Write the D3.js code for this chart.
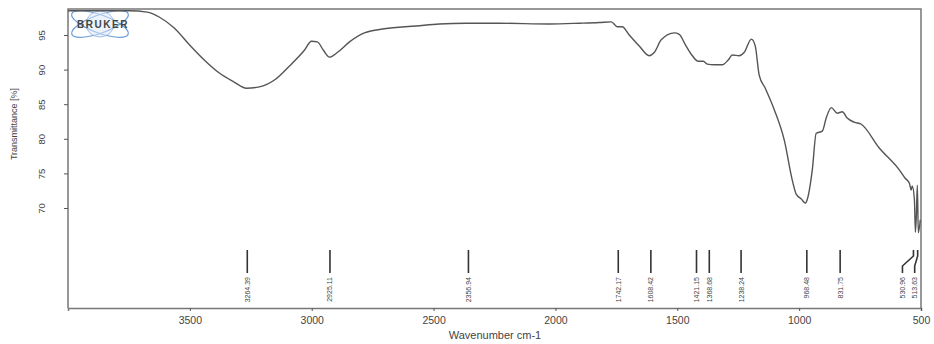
<!DOCTYPE html>
<html>
<head>
<meta charset="utf-8">
<script src="https://cdn.jsdelivr.net/npm/d3@7"></script>
<style>
  body { margin: 0; background: #fff; }
  text { font-family: "Liberation Sans", Arial, sans-serif; fill: #444; }
</style>
</head>
<body>
<svg id="root"></svg>
<script>
// spectrum
const wavenumbers = [4000, 3872, 3749, 3675, 3626, 3564, 3502, 3441, 3379, 3318, 3268, 3215, 3153, 3092, 3030,
  3001, 2977, 2952, 2927, 2894, 2845, 2784, 2702, 2571, 2477, 2366, 2230, 2025, 1902, 1820, 1771, 1746, 1726,
  1697, 1656, 1615, 1594, 1566, 1512, 1492, 1467, 1438, 1414, 1393, 1377, 1348, 1315, 1291, 1274, 1246, 1225,
  1196, 1180, 1164, 1139, 1102, 1061, 1028, 1012, 991, 975, 967, 946, 930, 905, 889, 868, 844, 823, 803, 774,
  745, 672, 589, 565, 548, 540, 536, 527, 523, 519, 515, 511, 503];
const transmittance = [98.5, 98.5, 98.5, 98.3, 97.6, 96.0, 93.6, 91.4, 89.5, 88.2, 87.3, 87.5, 88.5, 90.5, 92.8,
  94.1, 94.0, 92.8, 91.8, 92.5, 94.0, 95.3, 95.9, 96.3, 96.6, 96.7, 96.7, 96.6, 96.7, 96.8, 96.9, 96.2, 96.2,
  95.0, 93.4, 92.0, 92.5, 94.3, 95.3, 95.1, 93.6, 92.0, 91.2, 91.2, 90.8, 90.7, 90.7, 91.4, 92.1, 92.0, 92.5,
  94.4, 93.4, 89.2, 87.3, 84.2, 79.8, 74.0, 72.0, 71.3, 70.7, 71.2, 75.5, 80.8, 81.1, 83.0, 84.5, 83.7, 83.9,
  83.0, 82.4, 82.1, 78.7, 75.5, 74.3, 73.6, 72.6, 73.2, 71.2, 66.5, 69.0, 73.3, 66.4, 68.3];

// peak picking labels
const peakPositions = [3264.39, 2925.11, 2356.94, 1742.17, 1608.42, 1421.15, 1368.68, 1238.24, 968.48, 831.75, 530.96, 513.63];
const peakLabels = ["3264.39", "2925.11", "2356.94", "1742.17", "1608.42", "1421.15", "1368.68", "1238.24", "968.48", "831.75", "530.96", "513.63"];
const peakLabelShift = [0, 0, 0, 0, 0, 0, 0, 0, 0, 0, -11, -3];

const xTicks = [3500, 3000, 2500, 2000, 1500, 1000, 500];
const yTicks = [95, 90, 85, 80, 75, 70];

const W = 934, H = 344;
const margin = { left: 68, right: 13, top: 9, bottom: 36 };

const svg = d3.select('#root').attr('width', W).attr('height', H);

const x = d3.scaleLinear().domain([4000, 500]).range([margin.left, W - margin.right]);
const y = d3.scaleLinear().domain([95, 70]).range([35, 208]);
const bottom = H - margin.bottom;

// frame
svg.append('path')
  .attr('d', `M${margin.left},${bottom}V${margin.top}H${W - margin.right}V${bottom}`)
  .attr('fill', 'none').attr('stroke', '#777').attr('stroke-width', 1.5);

// x axis
const axisX = svg.append('g').attr('transform', `translate(0,${bottom})`)
  .call(d3.axisBottom(x).tickValues(xTicks).tickSize(3).tickPadding(6).tickFormat(d3.format('d')));
axisX.select('.domain').attr('stroke', '#777').attr('stroke-width', 1.5);
axisX.selectAll('.tick line').attr('stroke', '#555');
axisX.selectAll('.tick text').attr('fill', '#555').style('font-size', '10.5px');

svg.append('text').attr('x', 495).attr('y', 339).attr('text-anchor', 'middle')
  .style('font-size', '11px').text('Wavenumber cm-1');

// y axis
const axisY = svg.append('g').attr('transform', `translate(${margin.left},0)`)
  .call(d3.axisLeft(y).tickValues(yTicks).tickSize(4).tickFormat(''));
axisY.select('.domain').remove();
axisY.selectAll('.tick line').attr('stroke', '#555');
axisY.selectAll('.tick').append('text')
  .attr('transform', 'translate(-26,0) rotate(-90)')
  .attr('text-anchor', 'middle').attr('dy', '0.35em')
  .attr('fill', '#555').style('font-size', '9.5px')
  .text(d => d);

svg.append('text').attr('transform', 'translate(14,124) rotate(-90)')
  .attr('text-anchor', 'middle').attr('dy', '0.35em')
  .style('font-size', '9px').text('Transmittance [%]');

// logo
const logo = svg.append('g').attr('transform', 'translate(100,24)');
logo.append('ellipse').attr('rx', 30).attr('ry', 9).attr('transform', 'rotate(-20)')
  .attr('fill', 'none').attr('stroke', '#6a9bd8').attr('stroke-width', 1.2);
logo.append('ellipse').attr('rx', 30).attr('ry', 9).attr('transform', 'rotate(20)')
  .attr('fill', 'none').attr('stroke', '#6a9bd8').attr('stroke-width', 1.2);
logo.append('ellipse').attr('rx', 14).attr('ry', 13)
  .attr('fill', '#dbe8f7').attr('fill-opacity', 0.5).attr('stroke', '#8fb3e3').attr('stroke-width', 0.8);
logo.append('text').attr('x', 3).attr('y', 4).attr('text-anchor', 'middle')
  .style('font-size', '10px').style('font-weight', 'bold').style('letter-spacing', '1.5px')
  .attr('fill', '#111').text('BRUKER');

// spectrum
const pts = wavenumbers.map((w, i) => [w, transmittance[i]]);
svg.append('path').datum(pts)
  .attr('fill', 'none').attr('stroke', '#555').attr('stroke-width', 1.4)
  .attr('d', d3.line().x(d => x(d[0])).y(d => y(d[1])).curve(d3.curveMonotoneX));

// peak markers
const peaks = svg.append('g').selectAll('g').data(peakPositions).enter().append('g');
peaks.append('path')
  .attr('fill', 'none').attr('stroke', '#333').attr('stroke-width', 1.6)
  .attr('d', (d, i) => {
    const px = x(d), lx = px + peakLabelShift[i];
    return peakLabelShift[i] ? `M${px},250V256L${lx},266V273` : `M${px},250V273`;
  });
peaks.append('text')
  .attr('transform', (d, i) => `translate(${x(d) + peakLabelShift[i]},277) rotate(-90)`)
  .attr('text-anchor', 'end').attr('dy', '0.35em')
  .attr('fill', '#555').style('font-size', '7px')
  .text((d, i) => peakLabels[i]);
</script>
</body>
</html>
